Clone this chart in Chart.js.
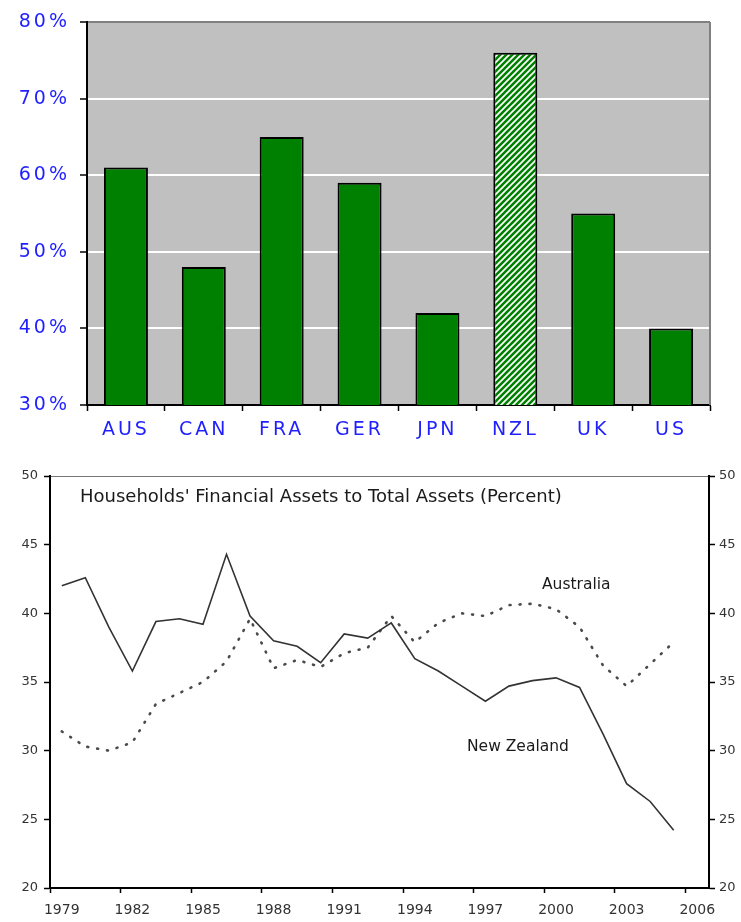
<!DOCTYPE html>
<html>
<head>
<meta charset="utf-8">
<script src="https://cdn.jsdelivr.net/npm/chart.js@4.4.1/dist/chart.umd.min.js"></script>
<style>
  html, body { margin: 0; padding: 0; background: #ffffff; }
  #top { position: absolute; left: 0; top: 0; }
  #bottom { position: absolute; left: 0; top: 460px; }
</style>
</head>
<body>
<canvas id="top" width="741" height="455"></canvas>
<canvas id="bottom" width="741" height="462"></canvas>
<script>
// ---------- data: top chart ----------
const countries = ['AUS', 'CAN', 'FRA', 'GER', 'JPN', 'NZL', 'UK', 'US'];
const shareValues = [61, 48, 65, 59, 42, 76, 55, 40];
const highlightCountry = 'NZL';
const pctMin = 30;
const pctMax = 80;
const pctStep = 10;

// ---------- data: bottom chart ----------
const years = [1979, 1980, 1981, 1982, 1983, 1984, 1985, 1986, 1987, 1988, 1989, 1990, 1991, 1992,
               1993, 1994, 1995, 1996, 1997, 1998, 1999, 2000, 2001, 2002, 2003, 2004, 2005, 2006];
const newZealand = [42.0, 42.6, 39.0, 35.8, 39.4, 39.6, 39.2, 44.3, 39.8, 38.0, 37.6, 36.4, 38.5, 38.2,
                    39.3, 36.7, 35.8, 34.7, 33.6, 34.7, 35.1, 35.3, 34.6, 31.2, 27.6, 26.3, 24.2];
const australia = [31.4, 30.3, 30.0, 30.6, 33.4, 34.2, 35.0, 36.5, 39.6, 36.0, 36.6, 36.1, 37.1, 37.5,
                   39.8, 37.9, 39.3, 40.0, 39.8, 40.6, 40.7, 40.3, 39.0, 36.2, 34.7, 36.3, 37.9];
const lineTitle = "Households' Financial Assets to Total Assets (Percent)";
const seriesNames = ['New Zealand', 'Australia'];
const lineMin = 20;
const lineMax = 50;
const lineStep = 5;

// ---------- top chart ----------
function makeHatch() {
  const s = 6;
  const c = document.createElement('canvas');
  c.width = s; c.height = s;
  const g = c.getContext('2d');
  g.fillStyle = '#008000';
  g.fillRect(0, 0, s, s);
  g.strokeStyle = '#ffffff';
  g.lineWidth = 1.7;
  g.beginPath();
  g.moveTo(0, s); g.lineTo(s, 0);
  g.moveTo(-1, 1); g.lineTo(1, -1);
  g.moveTo(s - 1, s + 1); g.lineTo(s + 1, s - 1);
  g.stroke();
  return g.createPattern(c, 'repeat');
}
const topCtx = document.getElementById('top').getContext('2d');
const hatch = makeHatch();

const spacingPlugin = {
  id: 'spacing',
  beforeUpdate(chart) { chart.ctx.letterSpacing = '3px'; },
  beforeDraw(chart) { chart.ctx.letterSpacing = '3px'; }
};
const bgPlugin = {
  id: 'bg',
  beforeDraw(chart) {
    const a = chart.chartArea, c = chart.ctx;
    c.save();
    c.fillStyle = '#c0c0c0';
    c.fillRect(a.left, a.top, a.right - a.left, a.bottom - a.top);
    c.restore();
  },
  afterDraw(chart) {
    const a = chart.chartArea, c = chart.ctx;
    c.save();
    c.strokeStyle = '#808080';
    c.lineWidth = 2;
    c.beginPath();
    c.moveTo(a.right, a.top);
    c.lineTo(a.right, a.bottom);
    c.stroke();
    c.restore();
  }
};
const topFont = { family: '"DejaVu Sans", sans-serif', size: 19 };

new Chart(topCtx, {
  type: 'bar',
  data: {
    labels: countries,
    datasets: [{
      data: shareValues,
      backgroundColor: countries.map(c => c === highlightCountry ? hatch : '#008000'),
      borderColor: '#000000',
      borderWidth: 2,
      borderSkipped: 'bottom',
      barPercentage: 0.565,
      categoryPercentage: 1.0
    }]
  },
  options: {
    responsive: false,
    animation: false,
    devicePixelRatio: 1,
    layout: { padding: { top: 22, right: 31, left: 0, bottom: 0 } },
    plugins: { legend: { display: false }, tooltip: { enabled: false } },
    scales: {
      x: {
        offset: true,
        grid: { offset: true, drawOnChartArea: false, drawTicks: true, tickLength: 6, tickColor: '#000', tickWidth: 1.5 },
        border: { color: '#000', width: 2 },
        ticks: { color: '#1f1fff', font: topFont, padding: 8, maxRotation: 0 },
        afterFit(s) { s.height = 50; }
      },
      y: {
        min: pctMin, max: pctMax,
        ticks: {
          stepSize: pctStep,
          color: '#1f1fff',
          font: topFont,
          padding: 10,
          callback: v => v + '%'
        },
        grid: {
          color: ctx => (ctx.tick && ctx.tick.value === pctMax) ? '#808080' : '#ffffff',
          lineWidth: 2,
          tickColor: '#000',
          tickWidth: 1.5,
          tickLength: 7
        },
        border: { color: '#000', width: 2 },
        afterFit(s) { s.width = 87; }
      }
    }
  },
  plugins: [spacingPlugin, bgPlugin]
});

// ---------- bottom chart ----------
const botCtx = document.getElementById('bottom').getContext('2d');
const annotPlugin = {
  id: 'annot',
  afterDraw(chart) {
    const a = chart.chartArea, c = chart.ctx, ys = chart.scales.y;
    c.save();
    c.fillStyle = '#1a1a1a';
    c.textBaseline = 'middle';
    c.textAlign = 'left';
    c.font = '18px "DejaVu Sans", sans-serif';
    c.fillText(lineTitle, a.left + 30, a.top + 21);
    c.font = '15.5px "DejaVu Sans", sans-serif';
    c.fillText(seriesNames[1], a.left + 492, ys.getPixelForValue(42.05));
    c.fillText(seriesNames[0], a.left + 417, ys.getPixelForValue(30.3));
    c.restore();
  }
};
const tickFont = { family: '"DejaVu Sans", sans-serif', size: 13 };
new Chart(botCtx, {
  type: 'line',
  data: {
    labels: years.map(String),
    datasets: [
      {
        label: seriesNames[0],
        data: newZealand,
        borderColor: '#333333',
        borderWidth: 1.6,
        pointRadius: 0,
        tension: 0,
        fill: false
      },
      {
        label: seriesNames[1],
        data: australia,
        borderColor: '#4a4a4a',
        borderWidth: 2.6,
        borderDash: [1, 9],
        borderCapStyle: 'round',
        pointRadius: 0,
        tension: 0,
        fill: false
      }
    ]
  },
  options: {
    responsive: false,
    animation: false,
    devicePixelRatio: 1,
    layout: { padding: { top: 16, right: 0, left: 0, bottom: 0 } },
    plugins: { legend: { display: false }, tooltip: { enabled: false } },
    scales: {
      x: {
        type: 'category',
        offset: true,
        grid: {
          offset: true,
          drawOnChartArea: false,
          drawTicks: true,
          tickLength: 5,
          tickWidth: 1.5,
          tickColor: ctx => (ctx.index !== undefined && ctx.index % 3 === 0) ? '#000' : 'rgba(0,0,0,0)'
        },
        border: { color: '#000', width: 2 },
        ticks: {
          autoSkip: false,
          maxRotation: 0,
          color: '#333',
          font: { family: '"DejaVu Sans", sans-serif', size: 14 },
          padding: 9,
          callback: (v, i) => (i % 3 === 0 ? String(years[i]) : '')
        },
        afterFit(s) { s.height = 34; }
      },
      y: {
        position: 'left',
        min: lineMin, max: lineMax,
        ticks: { stepSize: lineStep, color: '#333', font: tickFont, padding: 6 },
        grid: {
          color: ctx => (ctx.tick && ctx.tick.value === lineMax) ? '#777' : 'rgba(0,0,0,0)',
          tickColor: '#000',
          tickWidth: 1.5,
          tickLength: 6
        },
        border: { color: '#000', width: 2 },
        afterFit(s) { s.width = 50; }
      },
      y2: {
        position: 'right',
        min: lineMin, max: lineMax,
        ticks: { stepSize: lineStep, color: '#333', font: tickFont, padding: 4 },
        grid: { drawOnChartArea: false, tickColor: '#000', tickWidth: 1.5, tickLength: 6 },
        border: { color: '#000', width: 2 },
        afterFit(s) { s.width = 32; }
      }
    }
  },
  plugins: [annotPlugin]
});
</script>
</body>
</html>
